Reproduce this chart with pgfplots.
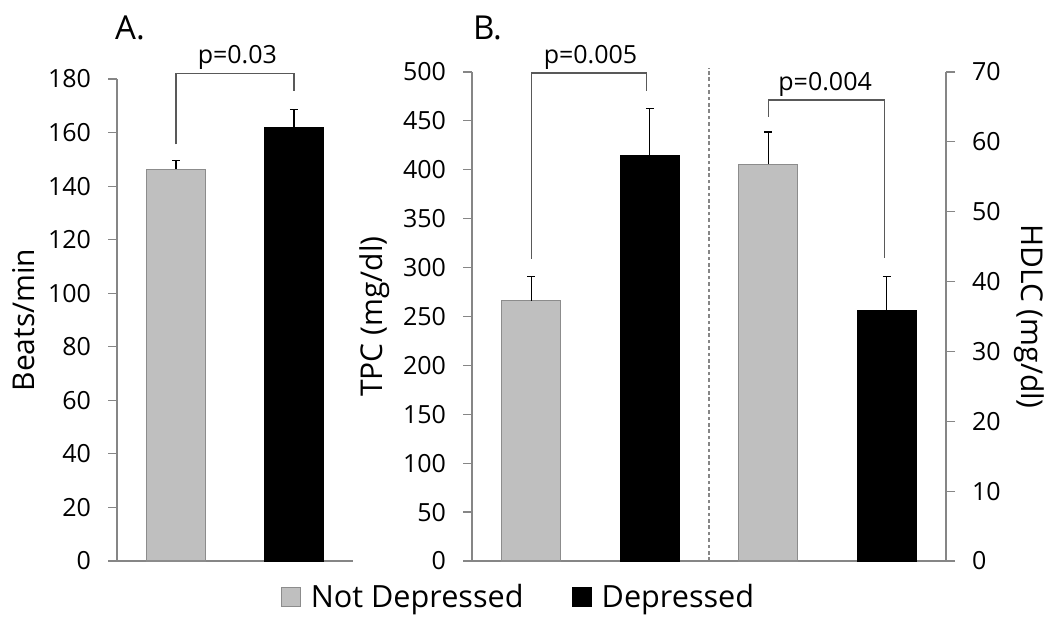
\documentclass[border=0pt]{standalone}
\usepackage{pgfplots}
\pgfplotsset{compat=1.18}
\usepackage{fontspec}
\setmainfont{Open Sans}
\definecolor{axisgray}{HTML}{868686}
\definecolor{bargray}{HTML}{BFBFBF}
\definecolor{bordergray}{HTML}{8C8C8C}
\definecolor{brk}{HTML}{595959}
\newcommand{\tickfont}{\fontsize{12.5}{15}\selectfont}
\newcommand{\labfont}{\fontsize{15}{18}\selectfont}
\newcommand{\legfont}{\fontsize{15.3}{18}\selectfont}
\newcommand{\panfont}{\fontsize{16.5}{19}\selectfont}
\pgfplotsset{
  panel/.style={
    scale only axis,
    anchor=south west,
    xtick=\empty,
    ymin=0,
    axis line style={draw=axisgray, line width=0.6pt},
    tick align=outside,
    major tick length=4.5pt,
    major tick style={draw=axisgray, line width=0.6pt},
    tick label style={font=\tickfont, text=black},
    /pgf/number format/assume math mode=true,
    label style={font=\labfont},
    clip=false,
  },
  graybar/.style={ybar, bar width=0.5, fill=bargray, draw=bordergray, line width=0.6pt,
    error bars/.cd, y dir=plus, y explicit, error mark=|,
    error bar style={black, line width=0.6pt},
    error mark options={black, line width=0.6pt, mark size=2pt}},
  blackbar/.style={ybar, bar width=0.5, fill=black, draw=black, line width=0.6pt,
    error bars/.cd, y dir=plus, y explicit, error mark=|,
    error bar style={black, line width=0.6pt},
    error mark options={black, line width=0.6pt, mark size=2pt}},
}
\begin{document}
\begin{tikzpicture}
\path[use as bounding box] (0,0) rectangle (525pt,312.5pt);
% Panel A
\begin{axis}[panel,
  at={(58.5pt,32pt)}, width=118pt, height=241pt,
  xmin=0, xmax=2, ymax=180, ytick={0,20,...,180},
  axis x line*=bottom, axis y line*=left,
  yticklabel style={xshift=-5pt},
  ylabel={Beats/min},
  legend image code/.code={\draw[#1] (0pt,-4.75pt) rectangle (9.5pt,4.75pt);},
  legend style={at={(1.705,-0.0747)}, anchor=center, draw=none, fill=none,
    legend columns=2, font=\legfont,
    /tikz/every odd column/.append style={column sep=3pt},
    /tikz/every even column/.append style={column sep=22pt}},
]
\addplot[graybar] coordinates {(0.5,146.3) +- (0,3.4)};
\addlegendentry{Not Depressed}
\addplot[blackbar] coordinates {(1.5,161.8) +- (0,6.7)};
\addlegendentry{Depressed}
\draw[brk, line width=0.6pt] (axis cs:0.5,155.6) -- (axis cs:0.5,182) -- (axis cs:1.5,182) -- (axis cs:1.5,175.4);
\node[font=\tickfont, anchor=base] at (axis cs:1.02,185.8) {p=0.03};
\node[font=\panfont] at (rel axis cs:0.055,1.107) {A.};
\end{axis}
% Panel B, left scale
\begin{axis}[panel,
  at={(236pt,32pt)}, width=237pt, height=244.5pt,
  xmin=0, xmax=4, ymax=500, ytick={0,50,...,500},
  axis x line*=bottom, axis y line*=left,
  yticklabel style={xshift=-5pt},
  ylabel={TPC (mg/dl)},
]
\addplot[graybar] coordinates {(0.5,266) +- (0,25)};
\addplot[blackbar] coordinates {(1.5,414.4) +- (0,48)};
\draw[brk, line width=0.6pt] (axis cs:0.5,309) -- (axis cs:0.5,499) -- (axis cs:1.47,499) -- (axis cs:1.47,480.6);
\node[font=\tickfont, anchor=base] at (axis cs:1.0,509) {p=0.005};
\draw[axisgray, line width=0.6pt, dash pattern=on 1.8pt off 1.4pt] (axis cs:2,0) -- (axis cs:2,504);
\node[font=\panfont] at (rel axis cs:0.0327,1.091) {B.};
\end{axis}
% Panel B, right scale
\begin{axis}[panel,
  at={(236pt,32pt)}, width=237pt, height=244.5pt,
  xmin=0, xmax=4, ymax=70, ytick={0,10,...,70},
  axis x line=none, axis y line*=right,
  yticklabel style={xshift=5pt},
  ylabel={HDLC (mg/dl)},
  ylabel style={rotate=180},
]
\addplot[graybar] coordinates {(2.5,56.8) +- (0,4.6)};
\addplot[blackbar] coordinates {(3.5,35.9) +- (0,4.8)};
\draw[brk, line width=0.6pt] (axis cs:2.5,63.6) -- (axis cs:2.5,66) -- (axis cs:3.48,66) -- (axis cs:3.48,43.4);
\node[font=\tickfont, anchor=base] at (axis cs:2.98,67.4) {p=0.004};
\end{axis}
\end{tikzpicture}
\end{document}
